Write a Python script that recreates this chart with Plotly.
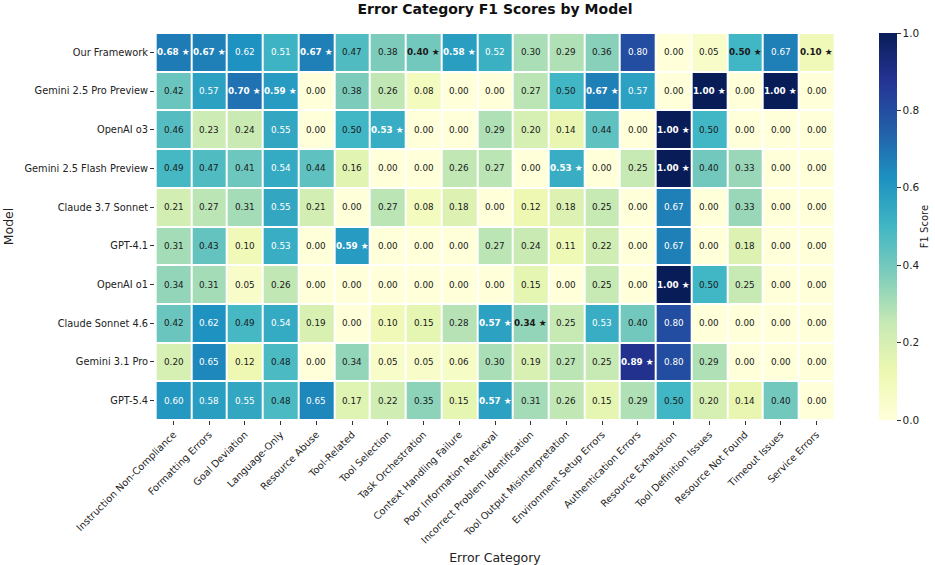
import plotly.graph_objects as go

models = ["Our Framework", "Gemini 2.5 Pro Preview", "OpenAI o3", "Gemini 2.5 Flash Preview",
          "Claude 3.7 Sonnet", "GPT-4.1", "OpenAI o1", "Claude Sonnet 4.6", "Gemini 3.1 Pro", "GPT-5.4"]

categories = ["Instruction Non-Compliance", "Formatting Errors", "Goal Deviation", "Language-Only",
              "Resource Abuse", "Tool-Related", "Tool Selection", "Task Orchestration",
              "Context Handling Failure", "Poor Information Retrieval", "Incorrect Problem Identification",
              "Tool Output Misinterpretation", "Environment Setup Errors", "Authentication Errors",
              "Resource Exhaustion", "Tool Definition Issues", "Resource Not Found", "Timeout Issues",
              "Service Errors"]

our_framework = [0.68, 0.67, 0.62, 0.51, 0.67, 0.47, 0.38, 0.40, 0.58, 0.52, 0.30, 0.29, 0.36, 0.80, 0.00, 0.05, 0.50, 0.67, 0.10]
gemini_25_pro = [0.42, 0.57, 0.70, 0.59, 0.00, 0.38, 0.26, 0.08, 0.00, 0.00, 0.27, 0.50, 0.67, 0.57, 0.00, 1.00, 0.00, 1.00, 0.00]
openai_o3 = [0.46, 0.23, 0.24, 0.55, 0.00, 0.50, 0.53, 0.00, 0.00, 0.29, 0.20, 0.14, 0.44, 0.00, 1.00, 0.50, 0.00, 0.00, 0.00]
gemini_25_flash = [0.49, 0.47, 0.41, 0.54, 0.44, 0.16, 0.00, 0.00, 0.26, 0.27, 0.00, 0.53, 0.00, 0.25, 1.00, 0.40, 0.33, 0.00, 0.00]
claude_37 = [0.21, 0.27, 0.31, 0.55, 0.21, 0.00, 0.27, 0.08, 0.18, 0.00, 0.12, 0.18, 0.25, 0.00, 0.67, 0.00, 0.33, 0.00, 0.00]
gpt_41 = [0.31, 0.43, 0.10, 0.53, 0.00, 0.59, 0.00, 0.00, 0.00, 0.27, 0.24, 0.11, 0.22, 0.00, 0.67, 0.00, 0.18, 0.00, 0.00]
openai_o1 = [0.34, 0.31, 0.05, 0.26, 0.00, 0.00, 0.00, 0.00, 0.00, 0.00, 0.15, 0.00, 0.25, 0.00, 1.00, 0.50, 0.25, 0.00, 0.00]
claude_46 = [0.42, 0.62, 0.49, 0.54, 0.19, 0.00, 0.10, 0.15, 0.28, 0.57, 0.34, 0.25, 0.53, 0.40, 0.80, 0.00, 0.00, 0.00, 0.00]
gemini_31_pro = [0.20, 0.65, 0.12, 0.48, 0.00, 0.34, 0.05, 0.05, 0.06, 0.30, 0.19, 0.27, 0.25, 0.89, 0.80, 0.29, 0.00, 0.00, 0.00]
gpt_54 = [0.60, 0.58, 0.55, 0.48, 0.65, 0.17, 0.22, 0.35, 0.15, 0.57, 0.31, 0.26, 0.15, 0.29, 0.50, 0.20, 0.14, 0.40, 0.00]

z = [our_framework, gemini_25_pro, openai_o3, gemini_25_flash, claude_37,
     gpt_41, openai_o1, claude_46, gemini_31_pro, gpt_54]

colorbar_ticks = [0.0, 0.2, 0.4, 0.6, 0.8, 1.0]

ylgnbu = ["#ffffd9", "#edf8b1", "#c7e9b4", "#7fcdbb", "#41b6c4", "#1d91c0", "#225ea8", "#253494", "#081d58"]
colorscale = [[i / (len(ylgnbu) - 1), c] for i, c in enumerate(ylgnbu)]

FONT = "DejaVu Sans"

fig = go.Figure(go.Heatmap(
    z=z, x=categories, y=models, zmin=0, zmax=1,
    colorscale=colorscale, xgap=2, ygap=2,
    hoverongaps=False,
    colorbar=dict(
        x=1.065, xanchor="left", xref="paper", y=0.5, yanchor="middle", len=1.0, lenmode="fraction",
        thickness=18, outlinewidth=0, xpad=0, ypad=0,
        tickmode="array", tickvals=colorbar_ticks,
        ticktext=[f"{t:.1f}" for t in colorbar_ticks],
        ticks="outside", ticklen=4, tickcolor="#333", tickfont=dict(size=10.5, family=FONT, color="#222"),
    ),
))

col_max = [max(row[j] for row in z) for j in range(len(categories))]
annotations = []
for i, m in enumerate(models):
    for j, c in enumerate(categories):
        v = z[i][j]
        star = v == col_max[j] and v > 0
        color = "white" if v > 0.505 else "#1a1a1a"
        txt = f"<b>{v:.2f} ★</b>" if star else f"{v:.2f}"
        annotations.append(dict(x=c, y=m, xref="x", yref="y", text=txt, showarrow=False,
                                font=dict(size=8.8, family=FONT, color=color)))

annotations.append(dict(x=1.132, y=0.5, xref="paper", yref="paper", text="F1 Score", textangle=-90,
                        showarrow=False, xanchor="center", yanchor="middle",
                        font=dict(size=10, family=FONT, color="#222")))

fig.update_layout(
    width=935, height=565,
    margin=dict(l=155, r=100, t=33, b=145),
    paper_bgcolor="white", plot_bgcolor="white",
    font=dict(family=FONT, color="#222"),
    title=dict(text="<b>Error Category F1 Scores by Model</b>", x=0.5, xref="paper", xanchor="center",
               y=0.992, yanchor="top", font=dict(size=14, family=FONT, color="#111")),
    annotations=annotations,
    xaxis=dict(title=dict(text="Error Category", font=dict(size=12.5, family=FONT), standoff=8),
               automargin=False,
               tickangle=-45, tickfont=dict(size=9.8, family=FONT, color="#222"),
               ticks="outside", ticklen=4, tickcolor="#333", showgrid=False, zeroline=False),
    yaxis=dict(title=dict(text="Model", font=dict(size=12.5, family=FONT), standoff=8),
               automargin=False,
               autorange="reversed", tickfont=dict(size=9.8, family=FONT, color="#222"),
               ticks="outside", ticklen=4, tickcolor="#333", showgrid=False, zeroline=False),
)

fig.write_html("out.html", config={"displayModeBar": False},
               post_script="document.body.style.margin='0px';")
